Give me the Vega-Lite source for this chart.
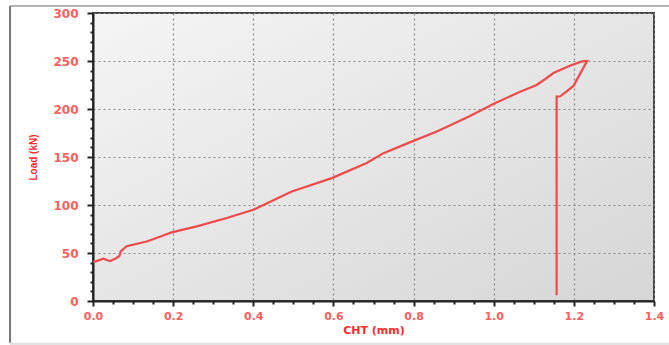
{
  "$schema": "https://vega.github.io/schema/vega-lite/v6.json",
  "width": 561,
  "height": 288,
  "autosize": {"type": "none"},
  "padding": {"left": 93, "top": 13, "right": 15, "bottom": 44},
  "background": "#ffffff",
  "config": {
    "view": {
      "stroke": "#444444",
      "strokeWidth": 2,
      "fill": {"gradient": "linear", "x1": 0, "y1": 0, "x2": 1, "y2": 1, "stops": [{"offset": 0, "color": "#f5f5f5"}, {"offset": 1, "color": "#d6d6d6"}]}
    },
    "font": "Liberation Sans"
  },
  "resolve": {"axis": {"x": "independent", "y": "independent"}},
  "data": {
    "values": [
      {"i": 0, "cht": 0.0, "load": 41},
      {"i": 1, "cht": 0.005, "load": 41},
      {"i": 2, "cht": 0.026, "load": 44},
      {"i": 3, "cht": 0.042, "load": 41.5},
      {"i": 4, "cht": 0.059, "load": 44.8},
      {"i": 5, "cht": 0.066, "load": 47},
      {"i": 6, "cht": 0.069, "load": 51.7},
      {"i": 7, "cht": 0.084, "load": 57},
      {"i": 8, "cht": 0.134, "load": 62},
      {"i": 9, "cht": 0.167, "load": 67},
      {"i": 10, "cht": 0.196, "load": 71.5},
      {"i": 11, "cht": 0.259, "load": 77.7},
      {"i": 12, "cht": 0.334, "load": 86.5},
      {"i": 13, "cht": 0.4, "load": 95},
      {"i": 14, "cht": 0.496, "load": 114},
      {"i": 15, "cht": 0.596, "load": 128},
      {"i": 16, "cht": 0.683, "load": 143.7},
      {"i": 17, "cht": 0.725, "load": 154},
      {"i": 18, "cht": 0.795, "load": 166},
      {"i": 19, "cht": 0.858, "load": 176.6},
      {"i": 20, "cht": 0.937, "load": 192},
      {"i": 21, "cht": 1.003, "load": 206},
      {"i": 22, "cht": 1.066, "load": 218},
      {"i": 23, "cht": 1.107, "load": 225},
      {"i": 24, "cht": 1.128, "load": 231},
      {"i": 25, "cht": 1.149, "load": 237.5},
      {"i": 26, "cht": 1.19, "load": 245},
      {"i": 27, "cht": 1.22, "load": 249.6},
      {"i": 28, "cht": 1.233, "load": 250},
      {"i": 29, "cht": 1.212, "load": 234},
      {"i": 30, "cht": 1.199, "load": 224},
      {"i": 31, "cht": 1.178, "load": 217},
      {"i": 32, "cht": 1.165, "load": 213},
      {"i": 33, "cht": 1.157, "load": 213},
      {"i": 34, "cht": 1.157, "load": 6}
    ]
  },
  "layer": [
    {
      "mark": {"type": "line", "color": "#ef4a4a", "strokeWidth": 2.2},
      "encoding": {
        "order": {"field": "i", "type": "quantitative"},
        "x": {
          "field": "cht",
          "type": "quantitative",
          "scale": {"domain": [0, 1.4], "nice": false, "zero": false},
          "axis": {
            "title": "CHT (mm)",
            "titleColor": "#ff2a2a",
            "titleFont": "DejaVu Sans",
            "titleFontSize": 11,
            "titleFontWeight": "bold",
            "titlePadding": 3,
            "values": [0, 0.05, 0.1, 0.15, 0.2, 0.25, 0.3, 0.35, 0.4, 0.45, 0.5, 0.55, 0.6, 0.65, 0.7, 0.75, 0.8, 0.85, 0.9, 0.95, 1.0, 1.05, 1.1, 1.15, 1.2, 1.25, 1.3, 1.35, 1.4],
            "labelExpr": "abs(datum.value*5 - round(datum.value*5)) < 0.001 ? format(datum.value, '.1f') : ''",
            "labelColor": "#ff5c5c",
            "labelFont": "DejaVu Sans",
            "labelFontSize": 11,
            "labelFontWeight": "bold",
            "labelPadding": 4,
            "labelFlush": false,
            "domainColor": "#222222",
            "domainWidth": 2,
            "tickColor": "#222222",
            "tickWidth": 2,
            "tickSize": {"condition": {"test": "abs(datum.value*5 - round(datum.value*5)) < 0.001", "value": 5}, "value": 3},
            "grid": true,
            "gridColor": "#8a8a8a",
            "gridDash": [2, 3],
            "gridWidth": 1.2,
            "gridOpacity": {"condition": {"test": "abs(datum.value*5 - round(datum.value*5)) < 0.001", "value": 1}, "value": 0}
          }
        },
        "y": {
          "field": "load",
          "type": "quantitative",
          "scale": {"domain": [0, 300], "nice": false},
          "axis": {
            "title": "Load (kN)",
            "titleColor": "#ff2a2a",
            "titleFontSize": 10,
            "titleFontWeight": "bold",
            "titlePadding": 14,
            "values": [0, 10, 20, 30, 40, 50, 60, 70, 80, 90, 100, 110, 120, 130, 140, 150, 160, 170, 180, 190, 200, 210, 220, 230, 240, 250, 260, 270, 280, 290, 300],
            "labelExpr": "datum.value % 50 === 0 ? datum.label : ''",
            "labelColor": "#ff5c5c",
            "labelFont": "DejaVu Sans",
            "labelFontSize": 12,
            "labelFontWeight": "bold",
            "labelPadding": 9,
            "labelFlush": false,
            "domainColor": "#222222",
            "domainWidth": 2,
            "tickColor": "#222222",
            "tickWidth": 2,
            "tickSize": {"condition": {"test": "datum.value % 50 === 0", "value": 6}, "value": 3},
            "grid": true,
            "gridColor": "#8a8a8a",
            "gridDash": [2, 3],
            "gridWidth": 1.2,
            "gridOpacity": {"condition": {"test": "datum.value % 50 === 0", "value": 1}, "value": 0}
          }
        }
      }
    },
    {
      "data": {"values": [{}]},
      "mark": {"type": "rect", "color": "#e3e3e3", "clip": false},
      "encoding": {
        "x": {"datum": -0.207, "type": "quantitative", "axis": null},
        "x2": {"datum": 1.47},
        "y": {"datum": -43.5, "type": "quantitative", "axis": null},
        "y2": {"datum": -46}
      }
    },
    {
      "data": {"values": [{}]},
      "mark": {"type": "rule", "color": "#9a9a9a", "strokeWidth": 1.5, "clip": false},
      "encoding": {
        "x": {"datum": -0.207, "type": "quantitative", "axis": null},
        "x2": {"datum": 1.47},
        "y": {"datum": 307.3, "type": "quantitative", "axis": null}
      }
    },
    {
      "data": {"values": [{}]},
      "mark": {"type": "rule", "color": "#7a7a7a", "strokeWidth": 2, "clip": false},
      "encoding": {
        "x": {"datum": -0.207, "type": "quantitative", "axis": null},
        "y": {"datum": 307.3, "type": "quantitative", "axis": null},
        "y2": {"datum": -43.5}
      }
    }
  ]
}
